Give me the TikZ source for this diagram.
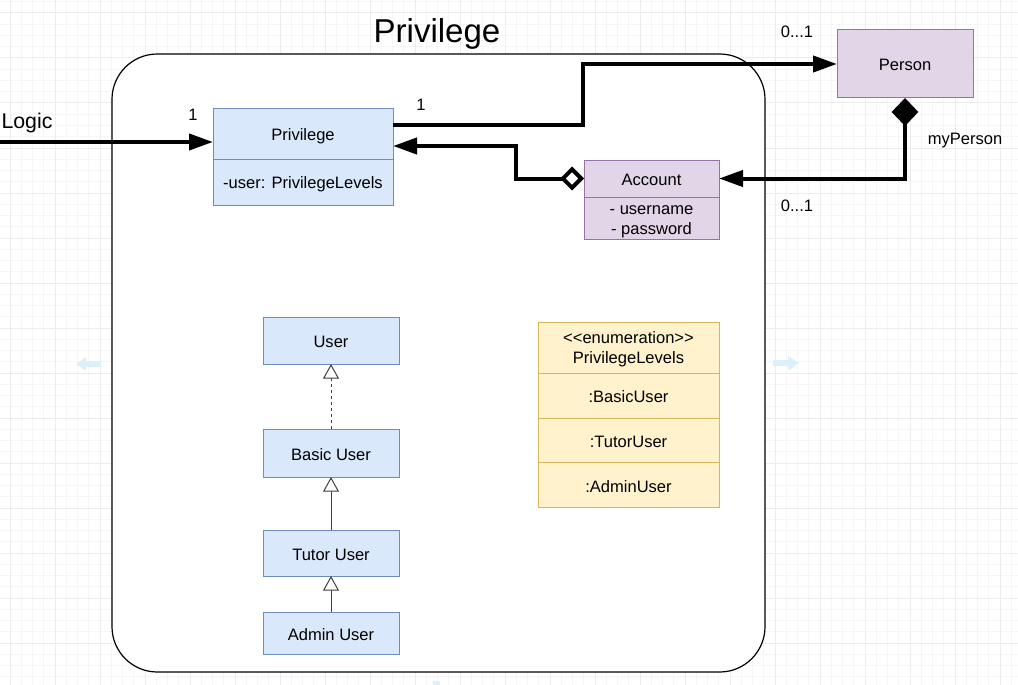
\documentclass[tikz,border=0pt]{standalone}
\usepackage{fontspec}
\setmainfont{Liberation Sans}
\usetikzlibrary{arrows.meta}

\definecolor{classfill}{HTML}{DAE8FC}
\definecolor{classline}{HTML}{6C8EBF}
\definecolor{accfill}{HTML}{E1D5E7}
\definecolor{accline}{HTML}{9673A6}
\definecolor{enumfill}{HTML}{FFF2CC}
\definecolor{enumline}{HTML}{D6B656}
\definecolor{hintblue}{HTML}{DCF0FB}

\newcommand{\boxstrut}{\rule[-1.5pt]{0pt}{13.5pt}}

\begin{document}
\begin{tikzpicture}[x = 0.75pt, y = -0.75pt,
    every node/.style = {font = \fontsize{12.4}{15}\selectfont, inner sep = 0pt, outer sep = 0pt},
    minorline/.style = {gray!7, line width = 0.75pt},
    majorline/.style = {gray!15, line width = 0.75pt},
    bluebox/.style = {draw = classline, fill = classfill, line width = 0.75pt, align = center},
    purplebox/.style = {draw = accline, fill = accfill, line width = 0.75pt, align = center},
    enumbox/.style = {draw = enumline, fill = enumfill, line width = 0.75pt, align = center,
        minimum width = 135.75pt},
    assoc/.style = {line width = 3pt, -{Triangle[length = 18pt, width = 12pt]}},
    aggr/.style = {line width = 3pt,
        {Diamond[open, length = 18pt, width = 18pt]}-{Triangle[length = 18pt, width = 12pt]}},
    compo/.style = {line width = 3pt,
        {Diamond[length = 21pt, width = 20pt]}-{Triangle[length = 18pt, width = 12pt]}},
    gener/.style = {draw = black!75, line width = 0.75pt,
        -{Triangle[open, fill = white, length = 11pt, width = 12pt]}}]

    \useasboundingbox (0,0) rectangle (1018,685);
    \clip (0,0) rectangle (1018,685);

    \foreach \i in {0,...,91}
        \draw[minorline] (-1.25+11.25*\i, 0) -- (-1.25+11.25*\i, 685);
    \foreach \i in {0,...,61}
        \draw[minorline] (0, 1.75+11.25*\i) -- (1018, 1.75+11.25*\i);
    \foreach \i in {0,...,22}
        \draw[majorline] (10+45*\i, 0) -- (10+45*\i, 685);
    \foreach \i in {0,...,15}
        \draw[majorline] (0, 13+45*\i) -- (1018, 13+45*\i);

    \fill[hintblue] (76,364) -- (86,357) -- (86,361) -- (101,361) -- (101,367)
        -- (86,367) -- (86,371) -- cycle;
    \fill[hintblue] (799,363) -- (788,356) -- (788,360) -- (773,360) -- (773,366)
        -- (788,366) -- (788,371) -- cycle;
    \fill[hintblue] (433,681) rectangle (440,685);

    \node[draw, fill = white, line width = 0.9pt, rounded corners = 34pt,
        minimum width = 489.75pt, minimum height = 463.5pt] (pkg) at (438.5,363) {};
    \node[font = \fontsize{24.8}{30}\selectfont] (title) at (437,34) {Privilege};

    \node[bluebox, minimum width = 135pt, minimum height = 37.5pt] (priv) at (303,134) {\boxstrut Privilege};
    \node[bluebox, minimum width = 135pt, minimum height = 34.5pt] (privbody) at (303,182)
        {\boxstrut -user: PrivilegeLevels};

    \node[purplebox, minimum width = 102pt, minimum height = 51pt] (person) at (905,64) {\boxstrut Person};
    \node[purplebox, minimum width = 101.25pt, minimum height = 27.75pt] (acc) at (651.5,178.5)
        {\boxstrut Account};
    \node[purplebox, minimum width = 101.25pt, minimum height = 31.5pt] (accbody) at (651.5,218)
        {\boxstrut - username\\\boxstrut - password};

    \node[bluebox, minimum width = 102pt, minimum height = 35.25pt] (user) at (331,340.5) {\boxstrut User};
    \node[bluebox, minimum width = 102pt, minimum height = 36pt] (basic) at (331,453) {\boxstrut Basic User};
    \node[bluebox, minimum width = 102pt, minimum height = 34.5pt] (tutor) at (331,553) {\boxstrut Tutor User};
    \node[bluebox, minimum width = 102pt, minimum height = 31.5pt] (admin) at (331,633) {\boxstrut Admin User};

    \node[enumbox, minimum height = 38.25pt] (levels) at (628.5,347.5)
        {\boxstrut <{}<enumeration>{}>\\\boxstrut PrivilegeLevels};
    \node[enumbox, minimum height = 33.75pt] (lvbasic) at (628.5,395.5) {\boxstrut :BasicUser};
    \node[enumbox, minimum height = 33.75pt] (lvtutor) at (628.5,440.5) {\boxstrut :TutorUser};
    \node[enumbox, minimum height = 33.75pt] (lvadmin) at (628.5,485) {\boxstrut :AdminUser};

    \node[font = \fontsize{16}{19}\selectfont] (logic) at (27,123) {Logic};
    \coordinate (logicin) at (0,142);
    \draw[assoc] (logicin) -- (logicin -| priv.west);
    \node (privone) at (193,114.5) {1};

    \draw[assoc] ([yshift = 6.75pt]priv.east) -| (583,64) -- (person.west);
    \node (personone) at (421,104.5) {1};
    \node (personmult) at (797,31.5) {0...1};

    \draw[aggr] (acc.west) -| (516,146) -- ([yshift = -9pt]priv.east);

    \draw[compo] (person.south) |- (acc.east);
    \node (myperson) at (965,141) {myPerson};
    \node (accmult) at (797,205.5) {0...1};

    \draw[gener, dash pattern = on 2.25pt off 2.25pt] (basic) -- (user);
    \draw[gener] (tutor) -- (basic);
    \draw[gener] (admin) -- (tutor);
\end{tikzpicture}
\end{document}
